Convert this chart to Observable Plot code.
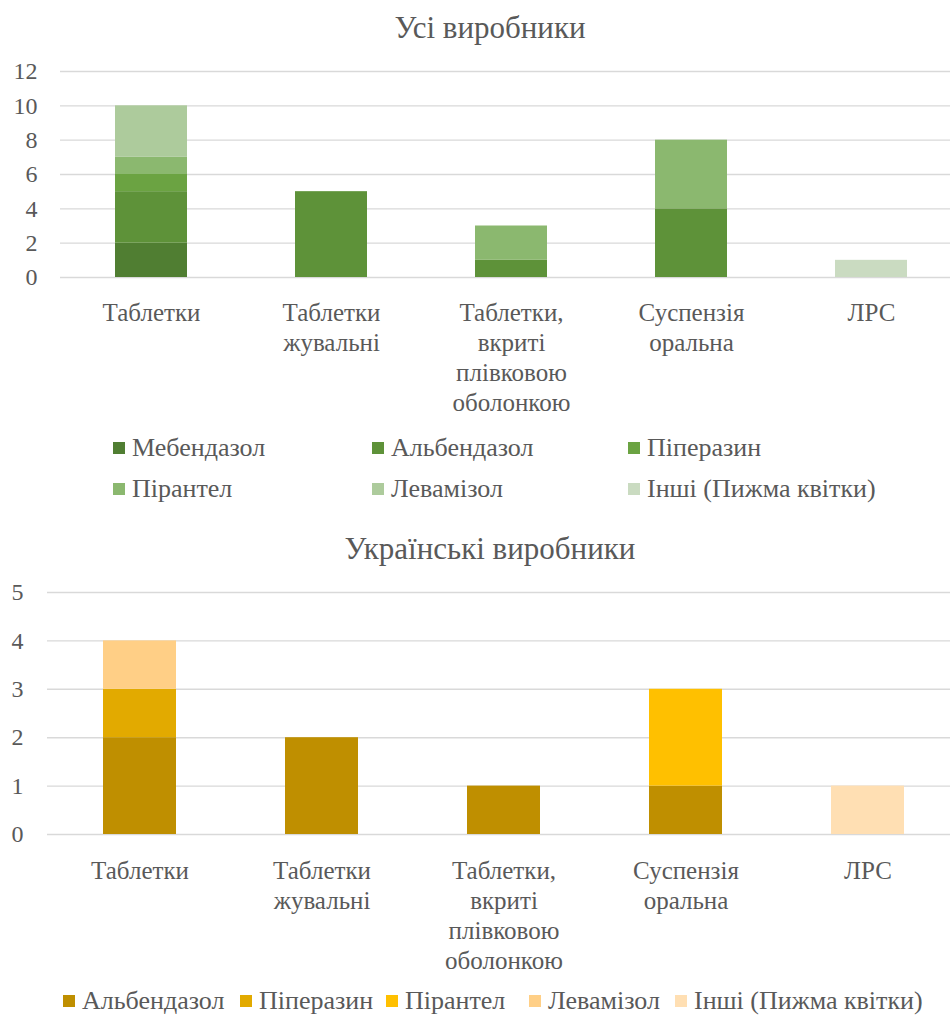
<!DOCTYPE html>
<html><head><meta charset="utf-8">
<script src="https://cdn.jsdelivr.net/npm/d3@7"></script>
<script src="https://cdn.jsdelivr.net/npm/@observablehq/plot@0.6"></script>
<style>
html,body{margin:0;padding:0;background:#fff}
body{width:950px;height:1019px;overflow:hidden;position:relative;font-family:"Liberation Serif","Times New Roman",serif;color:#595959}
.title{position:absolute;left:0;width:980px;text-align:center;font-size:31px;line-height:1}
.chart{position:absolute;left:0}
.leg{position:absolute;display:flex;align-items:center;font-size:26px;white-space:nowrap;line-height:1;transform:translateY(-50%)}
.sw{width:12px;height:12px;margin-right:7px;flex:none}
</style></head><body>
<div class="title" style="top:12px">Усі виробники</div>
<div class="chart" id="c1" style="top:50px"></div>
<div id="leg1"></div>
<div class="title" style="top:533px">Українські виробники</div>
<div class="chart" id="c2" style="top:570px"></div>
<div id="leg2"></div>
<script>
// ---- data ----
const categories = ["Таблетки", "Таблетки жувальні", "Таблетки, вкриті плівковою оболонкою", "Суспензія оральна", "ЛРС"];
const categoryLabels = ["Таблетки", "Таблетки\nжувальні", "Таблетки,\nвкриті\nплівковою\nоболонкою", "Суспензія\nоральна", "ЛРС"];

// Усі виробники
const allSeries = ["Мебендазол", "Альбендазол", "Піперазин", "Пірантел", "Левамізол", "Інші (Пижма квітки)"];
const allMebendazol = [2, 0, 0, 0, 0];
const allAlbendazol = [3, 5, 1, 4, 0];
const allPiperazin  = [1, 0, 0, 0, 0];
const allPirantel   = [1, 0, 2, 4, 0];
const allLevamizol  = [3, 0, 0, 0, 0];
const allInshi      = [0, 0, 0, 0, 1];
const allColors = ["#507E32", "#5E9239", "#6BA342", "#8BB86F", "#ADCB9C", "#CADBC1"];
const allTicks = [0, 2, 4, 6, 8, 10, 12];

// Українські виробники
const uaSeries = ["Альбендазол", "Піперазин", "Пірантел", "Левамізол", "Інші (Пижма квітки)"];
const uaAlbendazol = [2, 2, 1, 1, 0];
const uaPiperazin  = [1, 0, 0, 0, 0];
const uaPirantel   = [0, 0, 0, 2, 0];
const uaLevamizol  = [1, 0, 0, 0, 0];
const uaInshi      = [0, 0, 0, 0, 1];
const uaColors = ["#BF8F00", "#E2AA00", "#FFC000", "#FFCF86", "#FFDFB3"];
const uaTicks = [0, 1, 2, 3, 4, 5];

// ---- build ----
const labelOf = new Map(categories.map((c, i) => [c, categoryLabels[i]]));
const FONT = '"Liberation Serif","Times New Roman",serif';

function rows(series, values) {
  const out = [];
  series.forEach((s, i) => categories.forEach((c, j) => {
    if (values[i][j] > 0) out.push({cat: c, series: s, value: values[i][j]});
  }));
  return out;
}

function chart({series, values, colors, ticks, height, marginTop, marginBottom, marginLeft, xRange, yPad, xPad}) {
  const data = rows(series, values);
  return Plot.plot({
    width: 950, height, marginTop, marginBottom, marginLeft, marginRight: 0,
    style: {fontFamily: FONT, fontSize: "25px", color: "#595959", background: "white", overflow: "visible"},
    x: {domain: categories, range: xRange, paddingInner: 0.6, paddingOuter: 0.3, label: null},
    y: {domain: [ticks[0], ticks[ticks.length - 1]], label: null},
    color: {domain: series, range: colors},
    marks: [
      Plot.gridY(ticks, {stroke: "#d9d9d9", strokeOpacity: 1, strokeWidth: 1.4}),
      Plot.barY(data, {x: "cat", y: "value", fill: "series", order: series}),
      Plot.axisY(ticks, {tickSize: 0, tickPadding: yPad, fontSize: 24, fill: "#595959", label: null}),
      Plot.axisX({tickSize: 0, tickPadding: xPad, fontSize: 25, lineHeight: 1.2, fill: "#595959", label: null, tickFormat: d => labelOf.get(d)})
    ]
  });
}

document.getElementById("c1").append(chart({
  series: allSeries,
  values: [allMebendazol, allAlbendazol, allPiperazin, allPirantel, allLevamizol, allInshi],
  colors: allColors, ticks: allTicks,
  height: 370, marginTop: 21, marginBottom: 143, marginLeft: 60, xRange: [60, 962], yPad: 23, xPad: 22
}));

document.getElementById("c2").append(chart({
  series: uaSeries,
  values: [uaAlbendazol, uaPiperazin, uaPirantel, uaLevamizol, uaInshi],
  colors: uaColors, ticks: uaTicks,
  height: 400, marginTop: 22, marginBottom: 136, marginLeft: 47, xRange: [47, 960], yPad: 24, xPad: 23
}));

// ---- legends ----
function legend(container, series, colors, positions) {
  const el = document.getElementById(container);
  series.forEach((s, i) => {
    const d = document.createElement("div");
    d.className = "leg";
    d.style.left = positions[i][0] + "px";
    d.style.top = positions[i][1] + "px";
    const sw = document.createElement("span");
    sw.className = "sw";
    sw.style.background = colors[i];
    d.append(sw, document.createTextNode(s));
    el.append(d);
  });
}
legend("leg1", allSeries, allColors, [[113, 448], [372, 448], [628, 448], [113, 489], [372, 489], [628, 489]]);
legend("leg2", uaSeries, uaColors, [[63, 1001], [240, 1001], [386, 1001], [529, 1001], [675, 1001]]);
</script>
</body></html>
